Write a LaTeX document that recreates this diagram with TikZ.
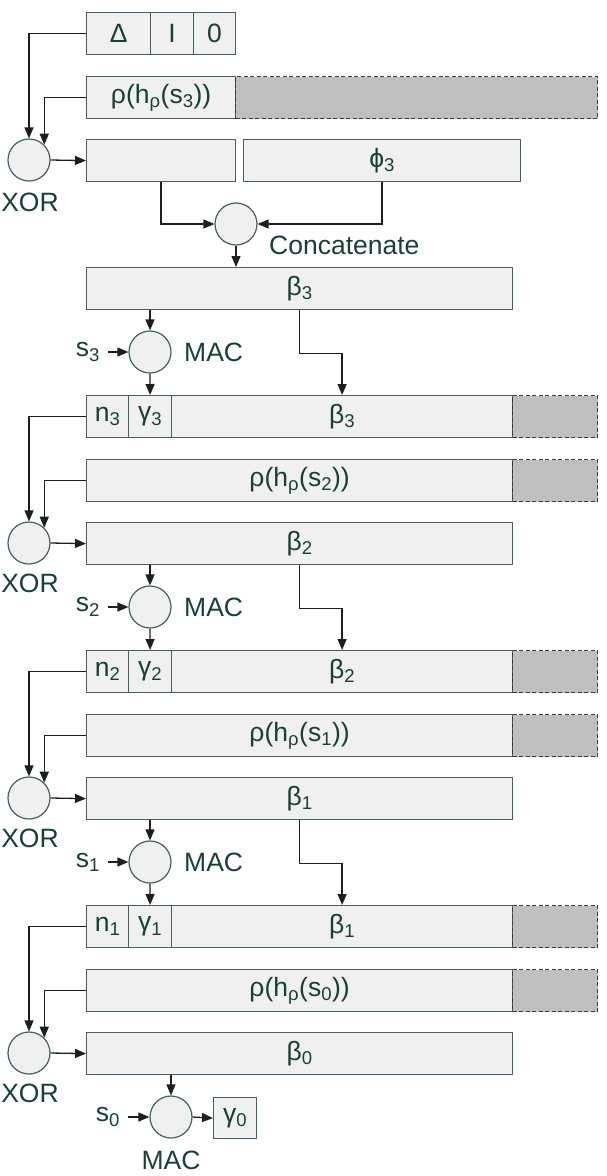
\documentclass[tikz,border=0pt]{standalone}
\usepackage{fontspec}
\setmainfont{Liberation Sans}
\usetikzlibrary{arrows.meta, positioning}

\definecolor{ink}{RGB}{22,66,50}
\definecolor{edge}{RGB}{66,98,82}
\definecolor{padedge}{RGB}{55,62,58}
\definecolor{boxfill}{RGB}{240,240,240}
\definecolor{padgray}{RGB}{191,191,191}
\definecolor{wirecol}{RGB}{30,30,30}

\tikzset{
  field/.style={draw=edge, fill=boxfill, text=ink, line width=1.2pt,
    anchor=north west, minimum height=42pt, inner sep=0pt},
  padding/.style={field, draw=padedge, fill=padgray, dash pattern=on 4pt off 2.5pt},
  gate/.style={circle, draw=edge, fill=boxfill, line width=1.2pt,
    minimum size=42pt, inner sep=0pt},
  tag/.style={text=ink, inner sep=0pt},
  wire/.style={draw=wirecol, line width=1.3pt, -{Triangle[length=11pt, width=9pt]}},
}

\begin{document}
\begin{tikzpicture}[x=1pt, y=-1pt, font=\fontsize{26.5}{30}\selectfont]
\useasboundingbox (0,0) rectangle (607,1176);

% header
\node (delta) [field, minimum width=64] at (86,12) {Δ};
\node (iv) [field, minimum width=43] at (150,12) {I};
\node (zero) [field, minimum width=42] at (193,12) {0};
\node (rho3) [field, minimum width=149] at (86,76) {ρ(h\textsubscript{ρ}(s\textsubscript{3}))};
\node (rho3pad) [padding, minimum width=362] at (235,76) {};
\node (xor4) [gate] at (29,160) {};
\node [tag] at (30,202) {XOR};
\node (mix) [field, minimum width=149] at (86,139) {};
\node (phi3) [field, minimum width=277] at (243,139) {ϕ\textsubscript{3}};
\node (cat) [gate] at (236,224) {};
\node [tag, anchor=west] at (269,245) {Concatenate};
\node (beta3) [field, minimum width=426] at (86,267) {β\textsubscript{3}};

\draw [wire] (delta.west) -| (xor4.north);
\draw [wire] (rho3.west) -| (xor4.north east);
\draw [wire] (xor4.east) -- (mix.west);
\draw [wire] (mix.south) |- (cat.west);
\draw [wire] (phi3.south) |- (cat.east);
\draw [wire] (cat.south) -- (cat.south |- beta3.north);

% one round per hop
\foreach \k/\j [count=\c from 0] in {3/2, 2/1, 1/0} {
  \pgfmathtruncatemacro\y{267+255*\c}
  \node (mac\k) [gate] at (150,\y+85) {};
  \node (s\k) [tag] at (88,\y+85) {s\textsubscript{\k}};
  \node [tag, anchor=west] at (184,\y+85) {MAC};
  \node (n\k) [field, minimum width=42] at (86,\y+128) {n\textsubscript{\k}};
  \node (gam\k) [field, minimum width=43] at (128,\y+128) {γ\textsubscript{\k}};
  \node (bb\k) [field, minimum width=341] at (171,\y+128) {β\textsubscript{\k}};
  \node (bb\k pad) [padding, minimum width=85] at (512,\y+128) {};
  \node (rho\j) [field, minimum width=426] at (86,\y+192) {ρ(h\textsubscript{ρ}(s\textsubscript{\j}))};
  \node (rho\j pad) [padding, minimum width=85] at (512,\y+192) {};
  \node (xor\j) [gate] at (29,\y+276) {};
  \node [tag] at (30,\y+316) {XOR};
  \node (beta\j) [field, minimum width=426] at (86,\y+255) {β\textsubscript{\j}};

  \draw [wire] (mac\k.north |- beta\k.south) -- (mac\k.north);
  \draw [wire, shorten <=8pt] (s\k.east) -- (mac\k.west);
  \draw [wire] (mac\k.south) -- (gam\k.north);
  \draw [wire] (beta\k.south) -- ++(0,43) -| (bb\k.north);
  \draw [wire] (n\k.west) -| (xor\j.north);
  \draw [wire] (rho\j.west) -| (xor\j.north east);
  \draw [wire] (xor\j.east) -- (beta\j.west);
}

% last tag
\node (mac0) [gate] at (171,1117) {};
\node (s0) [tag] at (108,1117) {s\textsubscript{0}};
\node [tag] at (171,1160) {MAC};
\node (gam0) [field, minimum width=43, minimum height=41] at (213,1097) {γ\textsubscript{0}};

\draw [wire] (mac0.north |- beta0.south) -- (mac0.north);
\draw [wire, shorten <=8pt] (s0.east) -- (mac0.west);
\draw [wire] (mac0.east) -- (gam0.west);

\end{tikzpicture}
\end{document}
